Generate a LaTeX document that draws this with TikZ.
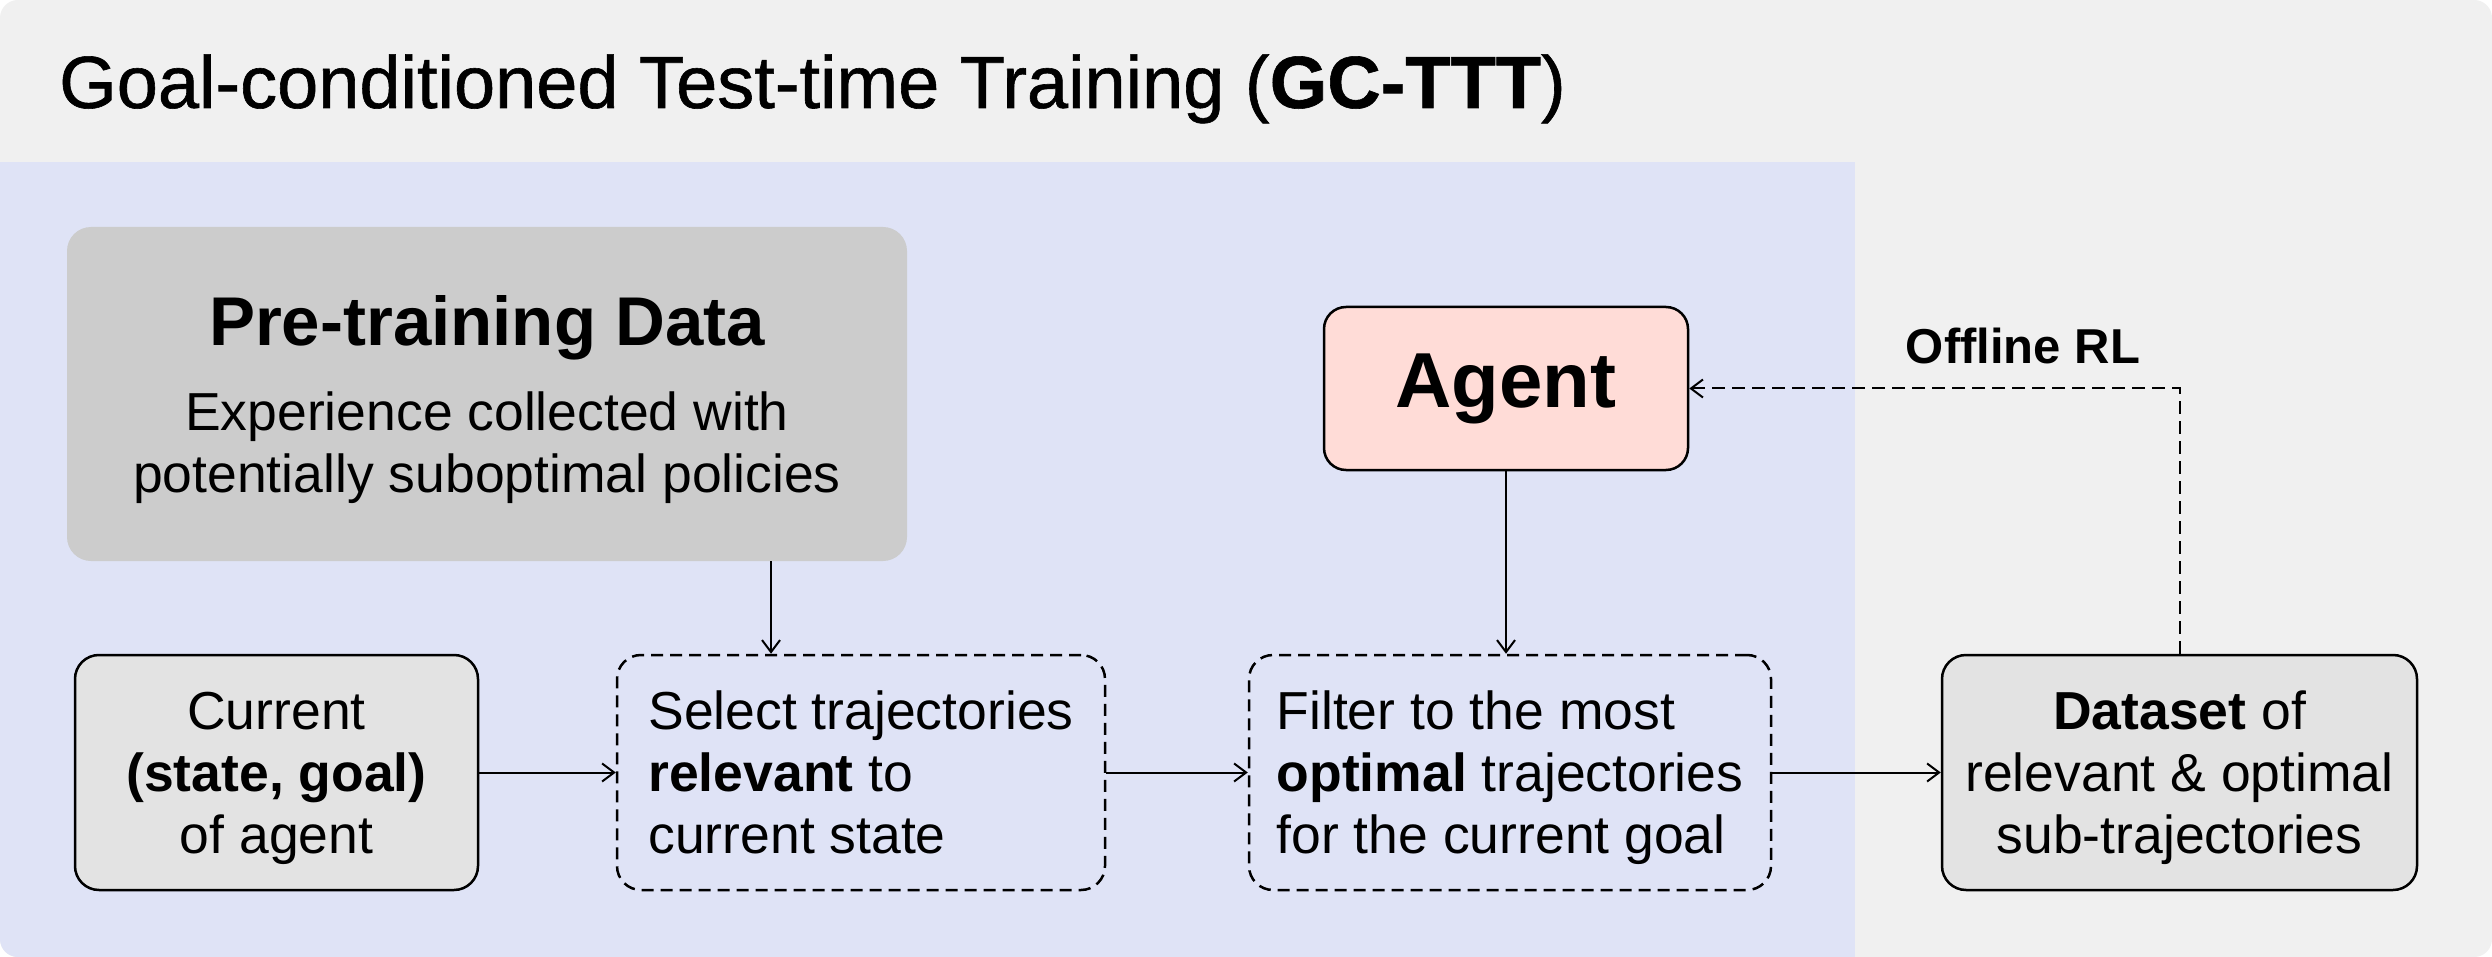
\documentclass[tikz,border=0pt]{standalone}
\usepackage{fontspec}
\setmainfont{Liberation Sans}
\newfontfamily\titlefont[FakeBold=0.8]{Liberation Sans}
\usetikzlibrary{arrows.meta}
\definecolor{bggrey}{HTML}{F0F0F0}
\definecolor{bgblue}{HTML}{DFE3F6}
\definecolor{pregrey}{HTML}{CCCCCC}
\definecolor{boxgrey}{HTML}{E3E3E3}
\definecolor{agentpink}{HTML}{FFDCD7}
\begin{document}
\begin{tikzpicture}[x=1pt,y=-1pt,
  body/.style={font=\fontsize{53.5}{62}\selectfont},
  solidbox/.style={draw=black, line width=2.5pt, rounded corners=24pt, fill=boxgrey,
    align=center, body, minimum height=235pt, inner sep=0pt, text depth=0pt},
  dashbox/.style={draw=black, line width=2.5pt, rounded corners=24pt,
    dash pattern=on 12pt off 7pt, align=left, body, minimum height=235pt, inner sep=0pt,
    text depth=0pt},
  arr/.style={-{Straight Barb[length=12pt,width=18pt,line width=2pt]}, line width=2pt},
  dasharr/.style={arr, dash pattern=on 13pt off 7pt}
]
\useasboundingbox (0,0) rectangle (2492,957);
\fill[white] (0,0) rectangle (2492,957);
\fill[bggrey, rounded corners=18pt] (0,0) rectangle (2492,957);
\begin{scope}
  \clip[rounded corners=18pt] (0,0) rectangle (2492,957);
  \fill[bgblue] (0,162) rectangle (1855,957);
\end{scope}

\node[anchor=base west, font=\titlefont\fontsize{74}{80}\selectfont, inner sep=0pt] (title) at (59,108)
  {Goal-conditioned Test-time Training (\textbf{GC-TTT})};

\node[fill=pregrey, rounded corners=24pt, minimum width=840pt, minimum height=334pt,
  align=center, body, inner sep=0pt, text depth=0pt] (pre) at (487,394)
  {{\fontsize{69}{69}\selectfont\bfseries Pre-training Data}\\[23pt]
   Experience collected with\\ potentially suboptimal policies};

\node[draw=black, line width=2.5pt, fill=agentpink, rounded corners=22pt,
  minimum width=364pt, minimum height=163pt, inner sep=0pt,
  font=\fontsize{78}{80}\selectfont\bfseries] (agent) at (1506,388.5) {Agent};

\node[solidbox, minimum width=403pt] (cur) at (276.5,772.5)
  {Current\\ \textbf{(state, goal)}\\ of agent};
\node[dashbox, minimum width=488pt] (sel) at (861,772.5)
  {Select trajectories\\ \textbf{relevant} to\\ current state};
\node[dashbox, minimum width=522pt] (fil) at (1510,772.5)
  {Filter to the most\\ \textbf{optimal} trajectories\\ for the current goal};
\node[solidbox, minimum width=475pt] (ds) at (2179.5,772.5)
  {\textbf{Dataset} of\\ relevant \& optimal\\ sub-trajectories};

\node[font=\fontsize{49}{50}\selectfont\bfseries, inner sep=0pt] (lbl) at (2023,346) {Offline RL};

\coordinate (px) at (771,0);
\draw[arr] (pre.south -| px) -- (sel.north -| px);
\draw[arr] (agent.south) -- (agent.south |- fil.north);
\draw[arr] (cur.east) -- (sel.west);
\draw[arr] (sel.east) -- (fil.west);
\draw[arr] (fil.east) -- (ds.west);
\draw[dasharr] (ds.north) |- (agent.east);
\end{tikzpicture}
\end{document}
